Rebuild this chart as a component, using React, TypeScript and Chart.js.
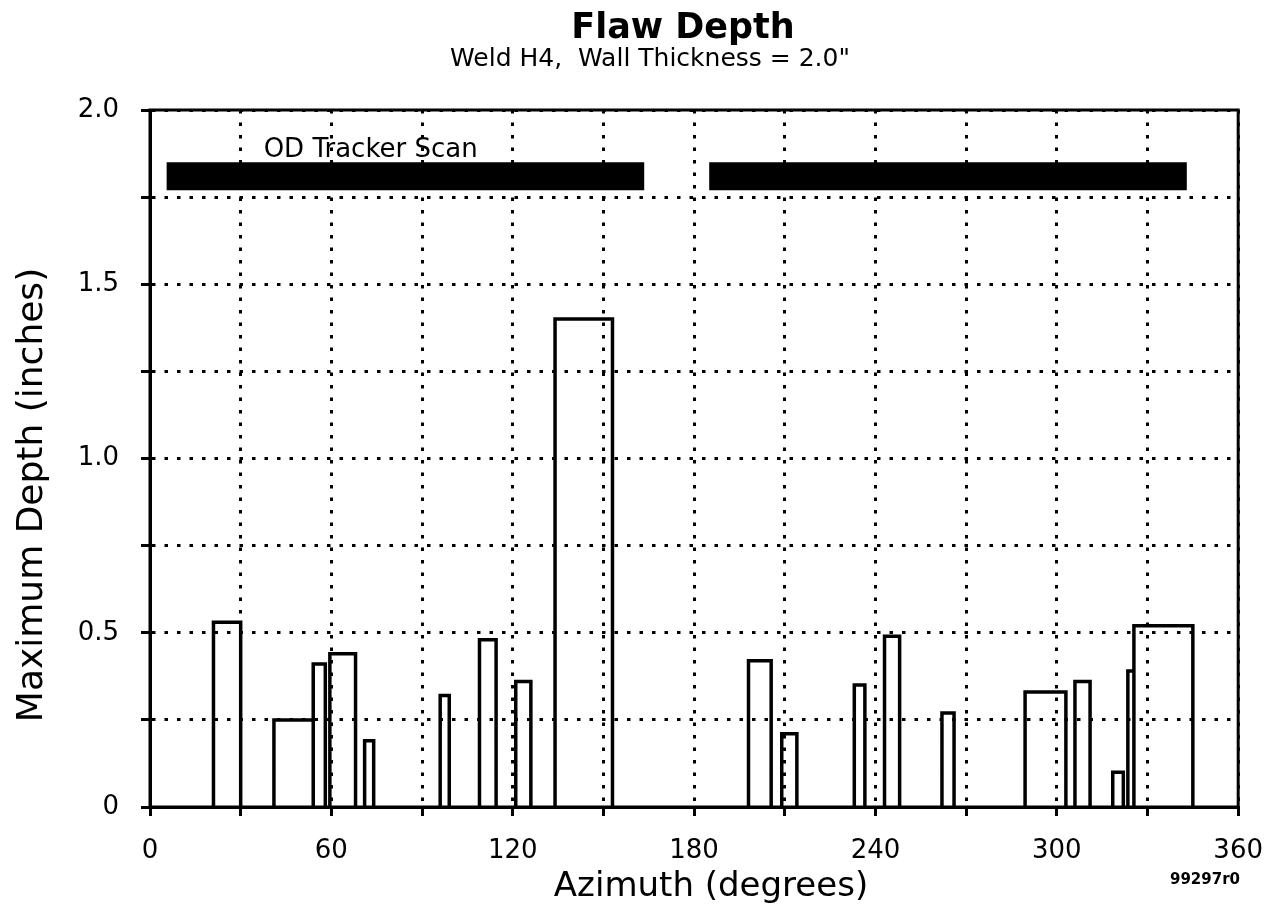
import React, { useEffect, useRef } from "react";
import { Chart, registerables } from "chart.js";

Chart.register(...registerables);

// Flaw indications: azimuth start / end (degrees) and maximum depth (inches)
const flawStart = [21, 41, 54, 59.5, 71, 96, 109, 121, 134, 198, 209, 233, 243, 262, 289.5, 306, 318.5, 323.5, 325.5];
const flawEnd = [30, 54, 58, 68, 74, 99, 114.5, 126, 153, 205.5, 214, 236.5, 248, 266, 303, 311, 322, 325.5, 345];
const flawDepth = [0.53, 0.25, 0.41, 0.44, 0.19, 0.32, 0.48, 0.36, 1.4, 0.42, 0.21, 0.35, 0.49, 0.27, 0.33, 0.36, 0.1, 0.39, 0.52];

// OD tracker scan coverage
const scanStart = [5.5, 185];
const scanEnd = [163.5, 343];
const scanLevel = [1.81, 1.81];
const scanLabel = "OD Tracker Scan";
const scanLabelPos = [73, 1.885];

const xTickLabels = ["0", "60", "120", "180", "240", "300", "360"];
const yTickLabels = ["0", "0.5", "1.0", "1.5", "2.0"];

const titleText = "Flaw Depth";
const subtitleText = 'Weld H4,  Wall Thickness = 2.0"';
const xTitle = "Azimuth (degrees)";
const yTitle = "Maximum Depth (inches)";
const docId = "99297r0";

const FONT = "'DejaVu Sans', 'Liberation Sans', Arial, sans-serif";

export default function App() {
  const ref = useRef<HTMLCanvasElement | null>(null);

  useEffect(() => {
    if (!ref.current) return;

    const barPoints: any[] = [];
    for (let i = 0; i < flawStart.length; i++) {
      barPoints.push({ x: flawStart[i], y: 0 });
      barPoints.push({ x: flawStart[i], y: flawDepth[i] });
      barPoints.push({ x: flawEnd[i], y: flawDepth[i] });
      barPoints.push({ x: flawEnd[i], y: 0 });
      barPoints.push({ x: flawEnd[i], y: null });
    }
    const scanPoints: any[] = [];
    for (let i = 0; i < scanStart.length; i++) {
      scanPoints.push({ x: scanStart[i], y: scanLevel[i] });
      scanPoints.push({ x: scanEnd[i], y: scanLevel[i] });
      scanPoints.push({ x: scanEnd[i], y: null });
    }

    const overlay = {
      id: "overlay",
      afterDatasetsDraw(chart: any) {
        const { ctx, chartArea } = chart;
        ctx.save();
        ctx.strokeStyle = "#000";
        ctx.lineWidth = 3;
        ctx.strokeRect(chartArea.left, chartArea.top, chartArea.right - chartArea.left, chartArea.bottom - chartArea.top);
        const xs = chart.scales.x;
        const ys = chart.scales.y;
        ctx.fillStyle = "#000";
        ctx.textBaseline = "middle";
        ctx.textAlign = "center";

        ctx.font = `26px ${FONT}`;
        ctx.fillText(scanLabel, xs.getPixelForValue(scanLabelPos[0]), ys.getPixelForValue(scanLabelPos[1]));

        // titles
        ctx.font = `bold 35px ${FONT}`;
        ctx.fillText(titleText, 683, 29);
        ctx.font = `25px ${FONT}`;
        ctx.fillText(subtitleText, 650, 59);

        // axis titles
        ctx.font = `34px ${FONT}`;
        ctx.fillText(xTitle, 711, 887);
        ctx.save();
        ctx.translate(33, 495);
        ctx.rotate(-Math.PI / 2);
        ctx.font = `36px ${FONT}`;
        ctx.fillText(yTitle, 0, 0);
        ctx.restore();

        ctx.font = `bold 15px ${FONT}`;
        ctx.fillText(docId, 1205, 880);
        ctx.restore();
      },
    };

    const chart = new Chart(ref.current, {
      type: "line",
      data: {
        datasets: [
          {
            data: barPoints,
            borderColor: "#000",
            borderWidth: 3.5,
            pointRadius: 0,
            spanGaps: false,
            fill: false,
            tension: 0,
            borderJoinStyle: "miter",
          } as any,
          {
            data: scanPoints,
            borderColor: "#000",
            borderWidth: 28,
            borderCapStyle: "butt",
            pointRadius: 0,
            spanGaps: false,
            fill: false,
            tension: 0,
          } as any,
        ],
      },
      options: {
        animation: false,
        responsive: true,
        maintainAspectRatio: false,
        layout: { padding: { left: 0, right: 42, top: 110, bottom: 0 } },
        plugins: {
          legend: { display: false },
          tooltip: { enabled: false },
          title: { display: false },
          subtitle: { display: false },
        },
        scales: {
          x: {
            type: "linear",
            min: 0,
            max: 360,
            afterFit: (s: any) => {
              s.height = 113;
            },
            ticks: {
              stepSize: 30,
              autoSkip: false,
              maxRotation: 0,
              color: "#000",
              padding: 20,
              font: { family: FONT, size: 26 },
              callback: (v: any) => (Number(v) % 60 === 0 ? xTickLabels[Number(v) / 60] : ""),
            },
            grid: {
              color: "#000",
              lineWidth: 3,
              tickLength: 9,
              tickColor: "#000",
              tickWidth: 3,
            },
            border: { display: true, color: "#000", width: 3, dash: [3.5, 9] },
            title: { display: false },
          },
          y: {
            type: "linear",
            min: 0,
            max: 2,
            afterFit: (s: any) => {
              s.width = 150;
            },
            ticks: {
              stepSize: 0.25,
              autoSkip: false,
              color: "#000",
              padding: 22,
              font: { family: FONT, size: 26 },
              callback: (v: any) => {
                const k = Math.round(Number(v) * 100);
                return k % 50 === 0 ? yTickLabels[k / 50] : "";
              },
            },
            grid: {
              color: "#000",
              lineWidth: 3,
              tickLength: 9,
              tickColor: "#000",
              tickWidth: 3,
            },
            border: { display: true, color: "#000", width: 3, dash: [3.5, 9] },
            title: { display: false },
          },
        },
      },
      plugins: [overlay],
    });

    return () => chart.destroy();
  }, []);

  return (
    <div style={{ position: "absolute", left: 0, top: 0, width: 1283, height: 920, background: "#fff" }}>
      <canvas ref={ref} />
    </div>
  );
}
